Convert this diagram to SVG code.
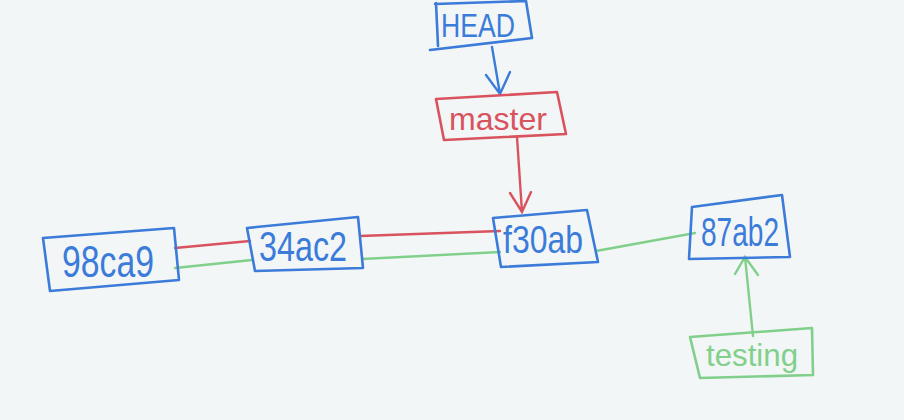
<svg xmlns="http://www.w3.org/2000/svg" width="904" height="420" viewBox="0 0 904 420">
<defs>
<style>
.bg{fill:#f3f6f6}
.box{fill:none;stroke-width:2.6;stroke-linejoin:round;stroke-linecap:round}
.blue{stroke:#3b7bd9}
.red{stroke:#d9535f}
.green{stroke:#80d08c}
.t{font-family:"Liberation Sans",Arial,sans-serif;font-weight:normal;text-anchor:middle;dominant-baseline:central}
.tb{fill:#3b7bd9}
.tr{fill:#d9535f}
.tg{fill:#80d08c}
.ln{fill:none;stroke-width:2.4;stroke-linecap:round}
</style>
</defs>
<rect class="bg" x="0" y="0" width="904" height="420"/>
<g id="connectors">
<path class="ln red" d="M175 248 L250 241"/>
<path class="ln green" d="M175 268 L252 260"/>
<path class="ln red" d="M360 236 L500 231"/>
<path class="ln green" d="M362 259 L500 252"/>
<path class="ln green" d="M596 251 L695 233"/>
<path class="ln blue" d="M492 47 L500 94 M486 75 L500 94 L510 72"/>
<path class="ln red" d="M517 137 L522 212 M510 193 L522 212 L531 192"/>
<path class="ln green" d="M753 336 L745 257 M735 274 L745 257 L758 275"/>
</g>
<g id="node-HEAD">
<path class="box blue" d="M435 4 L526 1 L532 38 L430 50 M436 3 L438 46"/>
<text class="t tb" x="478" y="25" font-size="34" textLength="74" lengthAdjust="spacingAndGlyphs">HEAD</text>
</g>
<g id="node-master">
<path class="box red" d="M436 99 L557 92 L566 134 L444 140 Z"/>
<text class="t tr" x="498" y="119" font-size="32" textLength="98" lengthAdjust="spacingAndGlyphs">master</text>
</g>
<g id="node-98ca9">
<path class="box blue" d="M43 238 L174 228 L179 280 L50 291 Z"/>
<text class="t tb" x="108" y="261" font-size="44" textLength="92" lengthAdjust="spacingAndGlyphs">98ca9</text>
</g>
<g id="node-34ac2">
<path class="box blue" d="M247 228 L358 217 L363 268 L255 271 Z"/>
<text class="t tb" x="303" y="246" font-size="42" textLength="88" lengthAdjust="spacingAndGlyphs">34ac2</text>
</g>
<g id="node-f30ab">
<path class="box blue" d="M493 218 L587 210 L598 262 L501 267 Z"/>
<text class="t tb" x="543" y="240" font-size="38" textLength="80" lengthAdjust="spacingAndGlyphs">f30ab</text>
</g>
<g id="node-87ab2">
<path class="box blue" d="M692 207 L782 195 L790 257 L689 259 Z"/>
<text class="t tb" x="740" y="232" font-size="40" textLength="78" lengthAdjust="spacingAndGlyphs">87ab2</text>
</g>
<g id="node-testing">
<path class="box green" d="M690 337 L812 328 L813 375 L700 378 Z"/>
<text class="t tg" x="752" y="355" font-size="32" textLength="92" lengthAdjust="spacingAndGlyphs">testing</text>
</g>
</svg>
